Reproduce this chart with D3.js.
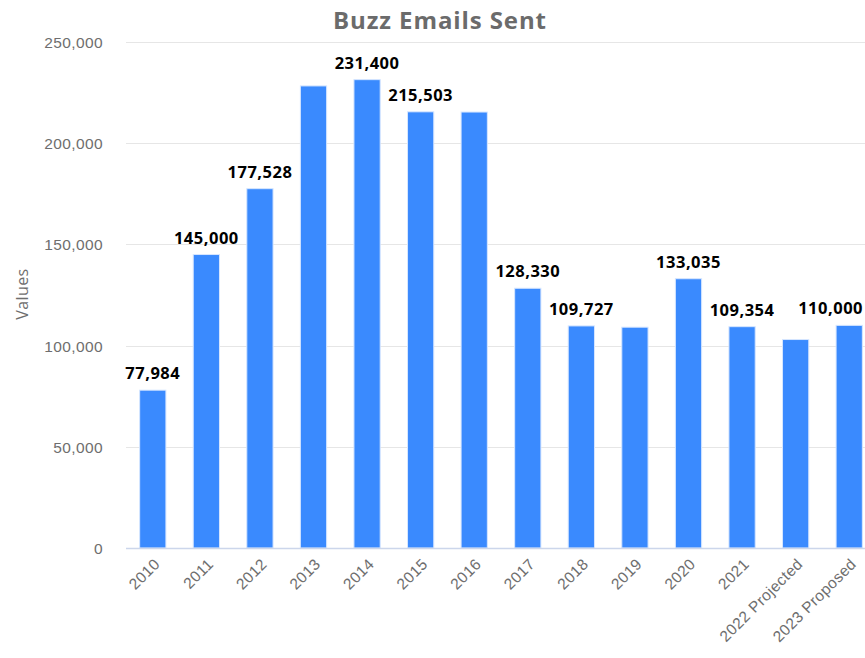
<!DOCTYPE html>
<html>
<head>
<meta charset="utf-8">
<script src="https://cdn.jsdelivr.net/npm/d3@7"></script>
<style>
  html, body { margin: 0; padding: 0; background: #fff; }
  svg { display: block; font-family: "Open Sans", "Noto Sans", sans-serif; }
</style>
</head>
<body>
<div id="chart"></div>
<script>
// Buzz emails sent per year
const categories = ["2010", "2011", "2012", "2013", "2014", "2015", "2016",
  "2017", "2018", "2019", "2020", "2021", "2022 Projected", "2023 Proposed"];
const values = [77984, 145000, 177528, 228300, 231400, 215503, 215400,
  128330, 109727, 109100, 133035, 109354, 103000, 110000];
// which bars carry a value label
const labelled = [true, true, true, false, true, true, false,
  true, true, false, true, true, false, true];
const yTicks = [0, 50000, 100000, 150000, 200000, 250000];

const width = 865, height = 658;
const margin = { top: 42, right: -11, bottom: 110, left: 126 };

const svg = d3.select("#chart").append("svg")
  .attr("width", width).attr("height", height);

const x = d3.scaleBand()
  .domain(categories)
  .range([margin.left, width - margin.right])
  .paddingInner(0.51)
  .paddingOuter(0.255);

const y = d3.scaleLinear()
  .domain([0, 250000])
  .range([height - margin.bottom, margin.top]);

const fmt = d3.format(",");

// horizontal grid lines
svg.append("g").selectAll("line")
  .data(yTicks.filter(d => d > 0))
  .join("line")
  .attr("x1", margin.left).attr("x2", width - margin.right)
  .attr("y1", d => Math.round(y(d)) + 0.5).attr("y2", d => Math.round(y(d)) + 0.5)
  .attr("stroke", "#e6e6e6").attr("stroke-width", 1);

// y axis labels
const yAxis = d3.axisLeft(y).tickValues(yTicks).tickFormat(fmt).tickSize(0).tickPadding(0);
const gy = svg.append("g").attr("transform", `translate(${margin.left - 23},0)`).call(yAxis);
gy.select(".domain").remove();
gy.selectAll("text")
  .attr("fill", "#6e6e6e").attr("font-size", 15.5)
  .attr("letter-spacing", "0.4px")
  .attr("dy", "0.35em");

// y axis title
svg.append("text")
  .attr("transform", `translate(28,${(y(0) + y(250000)) / 2 - 1}) rotate(-90)`)
  .attr("text-anchor", "middle")
  .attr("fill", "#6e6e6e").attr("font-size", 16)
  .attr("letter-spacing", "0.4px")
  .text("Values");

// bars
svg.append("g").selectAll("rect")
  .data(categories)
  .join("rect")
  .attr("x", d => x(d))
  .attr("y", (d, i) => y(values[i]))
  .attr("width", x.bandwidth())
  .attr("height", (d, i) => y(0) - y(values[i]))
  .attr("fill", "#3a8afe")
  .attr("stroke", "#d6e6ff").attr("stroke-width", 1);

// x axis baseline
svg.append("line")
  .attr("x1", margin.left).attr("x2", width - margin.right)
  .attr("y1", Math.round(y(0)) + 0.5).attr("y2", Math.round(y(0)) + 0.5)
  .attr("stroke", "#ccd6eb").attr("stroke-width", 1.5);

// x axis labels, rotated
const xAxis = d3.axisBottom(x).tickSize(0).tickPadding(0);
const gx = svg.append("g").attr("transform", `translate(0,${y(0)})`).call(xAxis);
gx.select(".domain").remove();
gx.selectAll("text")
  .attr("fill", "#6e6e6e").attr("font-size", 15.5)
  .attr("letter-spacing", "0.4px")
  .attr("text-anchor", "end")
  .attr("dy", null).attr("y", null)
  .attr("transform", "translate(8,17) rotate(-45)");

// value labels, nudged left where they would run past the right edge
svg.append("g").selectAll("text")
  .data(categories.map((c, i) => ({ c, v: values[i], show: labelled[i] })).filter(d => d.show))
  .join("text")
  .attr("x", d => x(d.c) + x.bandwidth() / 2)
  .attr("y", d => y(d.v) - 11)
  .attr("text-anchor", "middle")
  .attr("font-size", 16.5).attr("font-weight", 700)
  .attr("letter-spacing", "0.5px")
  .attr("fill", "#000")
  .text(d => fmt(d.v))
  .each(function (d) {
    const w = this.getComputedTextLength();
    const cx = x(d.c) + x.bandwidth() / 2;
    const limit = width - 2;
    if (cx + w / 2 > limit) d3.select(this).attr("x", limit - w / 2);
  });

// title
svg.append("text")
  .attr("x", 440).attr("y", 29)
  .attr("text-anchor", "middle")
  .attr("font-size", 24).attr("font-weight", 700)
  .attr("letter-spacing", "0.9px")
  .attr("fill", "#6b6b6b")
  .text("Buzz Emails Sent");
</script>
</body>
</html>
